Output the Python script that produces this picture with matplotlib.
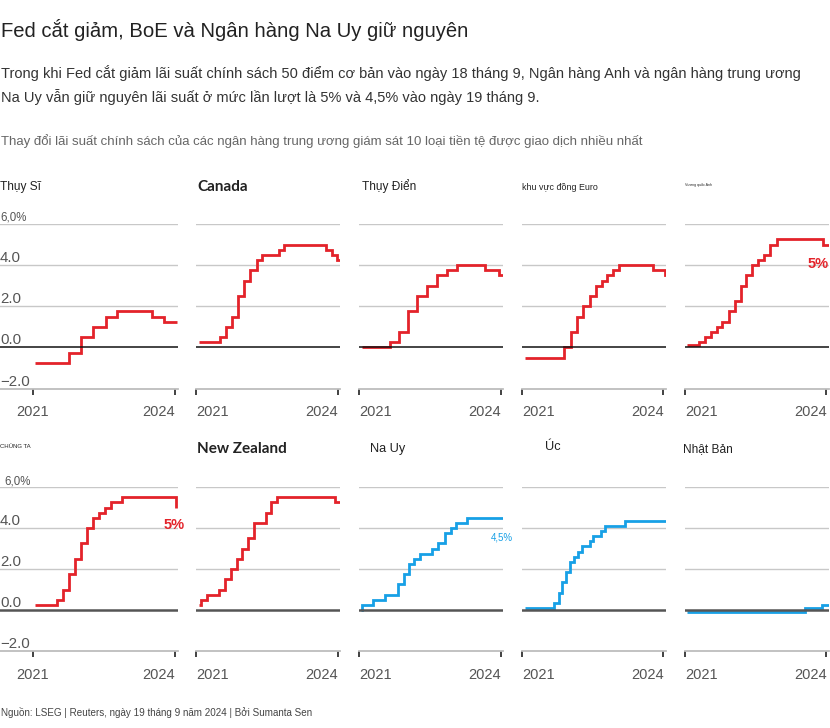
import matplotlib
matplotlib.use("Agg")
import matplotlib.pyplot as plt
import matplotlib.transforms as mtransforms

# ---------------- data (year fraction, policy rate %) ----------------
swiss_t = [2021.04, 2021.77, 2022.02, 2022.28, 2022.54, 2022.79, 2023.53, 2023.78, 2024.05]
swiss_r = [-0.75, -0.25, 0.5, 1.0, 1.5, 1.75, 1.5, 1.25, 1.25]

canada_t = [2021.06, 2021.51, 2021.63, 2021.76, 2021.88, 2022.02, 2022.14, 2022.29, 2022.40,
            2022.76, 2022.87, 2023.75, 2023.88, 2023.99, 2024.05]
canada_r = [0.25, 0.5, 1.0, 1.5, 2.5, 3.25, 3.75, 4.25, 4.5, 4.75, 5.0, 4.75, 4.5, 4.25, 4.25]

sweden_t = [2021.06, 2021.66, 2021.85, 2022.04, 2022.24, 2022.45, 2022.65, 2022.86, 2023.08,
            2023.68, 2023.96, 2024.05]
sweden_r = [0.0, 0.25, 0.75, 1.75, 2.5, 3.0, 3.5, 3.75, 4.0, 3.75, 3.5, 3.5]

euro_t = [2021.06, 2021.90, 2022.03, 2022.17, 2022.30, 2022.44, 2022.57, 2022.69, 2022.80,
          2022.92, 2023.06, 2023.77, 2024.03, 2024.05]
euro_r = [-0.5, 0.0, 0.75, 1.5, 2.0, 2.5, 3.0, 3.25, 3.5, 3.75, 4.0, 3.75, 3.5, 3.5]

uk_t = [2021.05, 2021.30, 2021.43, 2021.56, 2021.67, 2021.79, 2021.93, 2022.05, 2022.18,
        2022.29, 2022.43, 2022.55, 2022.68, 2022.81, 2022.94, 2023.92, 2024.05]
uk_r = [0.1, 0.25, 0.5, 0.75, 1.0, 1.25, 1.75, 2.25, 3.0, 3.5, 4.0, 4.25, 4.5, 5.0, 5.25, 5.0, 5.0]

us_t = [2021.04, 2021.51, 2021.64, 2021.77, 2021.90, 2022.02, 2022.15, 2022.28, 2022.40,
        2022.53, 2022.65, 2022.88, 2024.03, 2024.04]
us_r = [0.25, 0.5, 1.0, 1.75, 2.5, 3.25, 4.0, 4.5, 4.75, 5.0, 5.25, 5.5, 5.0, 5.0]

nz_t = [2021.06, 2021.11, 2021.23, 2021.49, 2021.61, 2021.74, 2021.87, 2021.97, 2022.10,
        2022.22, 2022.48, 2022.60, 2022.72, 2023.95, 2024.05]
nz_r = [0.25, 0.5, 0.75, 1.0, 1.5, 2.0, 2.5, 3.0, 3.5, 4.25, 4.75, 5.25, 5.5, 5.25, 5.25]

norway_t = [2021.04, 2021.06, 2021.30, 2021.56, 2021.82, 2021.95, 2022.07, 2022.17, 2022.29,
            2022.55, 2022.68, 2022.82, 2022.95, 2023.05, 2023.29, 2024.05]
norway_r = [0.0, 0.25, 0.5, 0.75, 1.25, 1.75, 2.25, 2.5, 2.75, 3.0, 3.25, 3.75, 4.0, 4.25, 4.5, 4.5]

aus_t = [2021.06, 2021.68, 2021.78, 2021.85, 2021.94, 2022.02, 2022.10, 2022.18, 2022.27,
         2022.44, 2022.51, 2022.67, 2022.76, 2023.19, 2024.05]
aus_r = [0.1, 0.35, 0.85, 1.35, 1.85, 2.35, 2.6, 2.85, 3.1, 3.35, 3.6, 3.85, 4.1, 4.35, 4.35]

japan_t = [2021.05, 2023.54, 2023.90, 2024.05]
japan_r = [-0.1, 0.1, 0.25, 0.25]

panel_titles = ["Thụy Sĩ", "Canada", "Thụy Điển", "khu vực đồng Euro", "Vương quốc Anh",
                "CHÚNG TA", "New Zealand", "Na Uy", "Úc", "Nhật Bản"]
year_ticks = [2021, 2024]
year_labels = ["2021", "2024"]
y_values = [6, 4, 2, 0, -2]
y_labels = ["6,0%", "4.0", "2.0", "0.0", "\u22122.0"]

RED = "#e3232a"
BLUE = "#17a0e6"

series = [
    (swiss_t, swiss_r, RED), (canada_t, canada_r, RED), (sweden_t, sweden_r, RED),
    (euro_t, euro_r, RED), (uk_t, uk_r, RED),
    (us_t, us_r, RED), (nz_t, nz_r, RED), (norway_t, norway_r, BLUE),
    (aus_t, aus_r, BLUE), (japan_t, japan_r, BLUE),
]

# ---------------- layout ----------------
W, H = 830, 728
plt.rcParams["font.family"] = ["Liberation Sans", "DejaVu Sans"]
fig = plt.figure(figsize=(W / 100, H / 100), dpi=100)
fig.patch.set_facecolor("white")


def fx(x):
    return x / W


def fy(y):
    return 1 - y / H


fig.text(fx(1), fy(30), "Fed cắt giảm, BoE và Ngân hàng Na Uy giữ nguyên",
         fontsize=14.6, color="#222222", va="center", ha="left")
fig.text(fx(1), fy(73), "Trong khi Fed cắt giảm lãi suất chính sách 50 điểm cơ bản vào ngày 18 tháng 9, "
         "Ngân hàng Anh và ngân hàng trung ương",
         fontsize=10.55, color="#333333", va="center", ha="left")
fig.text(fx(1), fy(97), "Na Uy vẫn giữ nguyên lãi suất ở mức lần lượt là 5% và 4,5% vào ngày 19 tháng 9.",
         fontsize=10.55, color="#333333", va="center", ha="left")
fig.text(fx(1), fy(141), "Thay đổi lãi suất chính sách của các ngân hàng trung ương giám sát 10 loại tiền tệ "
         "được giao dịch nhiều nhất",
         fontsize=9.5, color="#666666", va="center", ha="left")
fig.text(fx(1), fy(712), "Nguồn: LSEG | Reuters, ngày 19 tháng 9 năm 2024 | Bởi Sumanta Sen",
         fontsize=7.1, color="#444444", va="center", ha="left")

row_top = [224, 487]
row_bottom = [388.5, 651]
col_left = [33, 196, 359, 522, 685]
PX_PER_YEAR = 141.5 / 3.0

title_style = [
    dict(x=0, size=8.6, weight="normal"),
    dict(x=197, size=11, weight="bold"),
    dict(x=362, size=8.6, weight="normal"),
    dict(x=522, size=6.4, weight="normal"),
    dict(x=685, size=2.6, weight="normal"),
    dict(x=0, size=4.3, weight="normal"),
    dict(x=197, size=11, weight="bold"),
    dict(x=370, size=9.2, weight="normal"),
    dict(x=545, size=9.2, weight="normal"),
    dict(x=683, size=8.6, weight="normal"),
]
title_y = [187, 187, 186, 187, 185, 447, 449, 449, 447, 449]

for i, (t, r, color) in enumerate(series):
    row, col = divmod(i, 5)
    tick_px = col_left[col]
    if col == 0:
        left, width = 0, 178
    else:
        left, width = col_left[col], 144
    top, bottom = row_top[row], row_bottom[row]
    ax = fig.add_axes([fx(left), fy(bottom), width / W, (bottom - top) / H])
    x0 = 2021 - (tick_px - left) / PX_PER_YEAR
    x1 = 2021 + (left + width - tick_px) / PX_PER_YEAR
    ax.set_xlim(x0, x1)
    ax.set_ylim(-2, 6)
    for v in [2, 4, 6]:
        ax.axhline(v, color="#c8c8c8", lw=1.0, zorder=1)
    if row == 0:
        ax.axhline(0, color="#111111", lw=1.1, zorder=3)
    else:
        ax.axhline(0, color="#555555", lw=1.8, zorder=3)
    ax.step(t, r, where="post", color=color, lw=2.0, zorder=2,
            solid_joinstyle="miter", solid_capstyle="butt")
    for s in ["top", "right", "left"]:
        ax.spines[s].set_visible(False)
    ax.spines["bottom"].set_color("#bdbdbd")
    ax.spines["bottom"].set_linewidth(1.3)
    ax.set_yticks([])
    ax.set_xticks(year_ticks)
    ax.set_xticklabels(year_labels)
    ax.tick_params(axis="x", length=4, width=1.3, color="#333333", pad=8,
                   labelsize=10.5, labelcolor="#555555")
    labs = ax.get_xticklabels()
    labs[0].set_horizontalalignment("center" if col == 0 else "left")
    labs[1].set_horizontalalignment("right")
    ax.set_facecolor("none")
    if col == 0:
        off = mtransforms.offset_copy(ax.transData, fig=fig, x=0, y=3, units="dots")
        for v, lab in zip(y_values, y_labels):
            fs = 8.3 if "%" in lab else 10.8
            xo = x0 + (4 / PX_PER_YEAR if (row == 1 and "%" in lab) else 0)
            ax.text(xo, v, lab, transform=off, ha="left", va="baseline",
                    fontsize=fs, color="#555555")
    st = title_style[i]
    fig.text(fx(st["x"]), fy(title_y[i]), panel_titles[i], fontsize=st["size"],
             fontweight=st["weight"], color="#222222", va="center", ha="left",
             family=["Lato", "DejaVu Sans"] if st["weight"] == "bold" else None)

# annotations
fig.text(fx(818), fy(264), "5%", fontsize=10.5, fontweight="bold", color=RED,
         ha="center", va="center")
fig.text(fx(174), fy(525), "5%", fontsize=10.5, fontweight="bold", color=RED,
         ha="center", va="center")
fig.text(fx(502), fy(537), "4,5%", fontsize=7.0, color=BLUE, ha="center", va="center")

fig.savefig("out.png", dpi=100, facecolor="white")
